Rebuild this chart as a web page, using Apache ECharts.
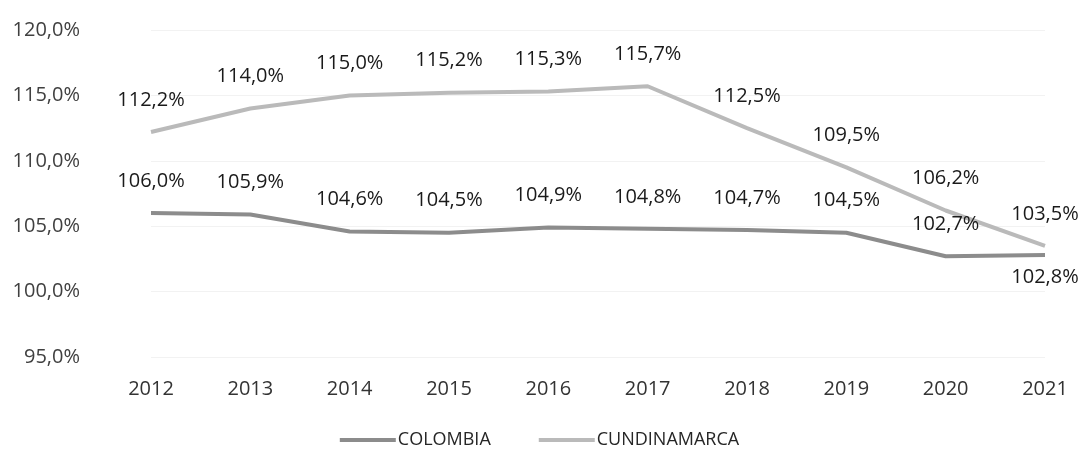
<!DOCTYPE html>
<html>
<head>
<meta charset="utf-8">
<script src="https://cdn.jsdelivr.net/npm/echarts@6/dist/echarts.min.js"></script>
<style>
  html, body { margin: 0; padding: 0; background: #fff; }
  #chart { width: 1079px; height: 450px; }
</style>
</head>
<body>
<div id="chart"></div>
<script>
var years = ["2012", "2013", "2014", "2015", "2016", "2017", "2018", "2019", "2020", "2021"];
var colombia = [106.0, 105.9, 104.6, 104.5, 104.9, 104.8, 104.7, 104.5, 102.7, 102.8];
var cundinamarca = [112.2, 114.0, 115.0, 115.2, 115.3, 115.7, 112.5, 109.5, 106.2, 103.5];
var seriesNames = ["COLOMBIA", "CUNDINAMARCA"];

function pct(v) {
  return v.toFixed(1).replace(".", ",") + "%";
}

var FONT = "Open Sans";

var chart = echarts.init(document.getElementById("chart"));

// last Colombia label sits under the point
var colombiaData = colombia.map(function (v, i) {
  if (i === colombia.length - 1) {
    return { value: v, label: { position: "bottom", distance: 12 } };
  }
  return v;
});

var option = {
  animation: false,
  grid: { left: 151, right: 34, top: 30, bottom: 93, outerBoundsMode: "none" },
  legend: {
    top: 426,
    left: "center",
    itemWidth: 56,
    itemHeight: 4,
    itemGap: 48,
    icon: "rect",
    textStyle: { fontFamily: FONT, fontSize: 18, color: "#262626", padding: [0, 0, 0, -3] },
    data: seriesNames
  },
  xAxis: {
    type: "category",
    data: years,
    boundaryGap: false,
    axisLine: { show: false },
    axisTick: { show: false },
    axisLabel: { fontFamily: FONT, fontSize: 20, color: "#333", margin: 22 }
  },
  yAxis: {
    type: "value",
    min: 95,
    max: 120,
    interval: 5,
    axisLine: { show: false },
    axisTick: { show: false },
    splitLine: { lineStyle: { color: "#f2f2f2", width: 1 } },
    axisLabel: {
      fontFamily: FONT, fontSize: 20, color: "#404040", margin: 71,
      formatter: function (v) { return pct(v); }
    }
  },
  series: [
    {
      name: seriesNames[0],
      type: "line",
      data: colombiaData,
      symbol: "circle",
      symbolSize: 0,
      showSymbol: true,
      lineStyle: { color: "#8c8c8c", width: 4 },
      itemStyle: { color: "#8c8c8c" },
      label: {
        show: true, position: "top", distance: 22,
        fontFamily: FONT, fontSize: 20, color: "#1a1a1a",
        formatter: function (p) { return pct(p.value); }
      }
    },
    {
      name: seriesNames[1],
      type: "line",
      data: cundinamarca,
      symbol: "circle",
      symbolSize: 0,
      showSymbol: true,
      lineStyle: { color: "#bababa", width: 4 },
      itemStyle: { color: "#bababa" },
      label: {
        show: true, position: "top", distance: 22,
        fontFamily: FONT, fontSize: 20, color: "#1a1a1a",
        formatter: function (p) { return pct(p.value); }
      }
    }
  ]
};

chart.setOption(option);
</script>
</body>
</html>
